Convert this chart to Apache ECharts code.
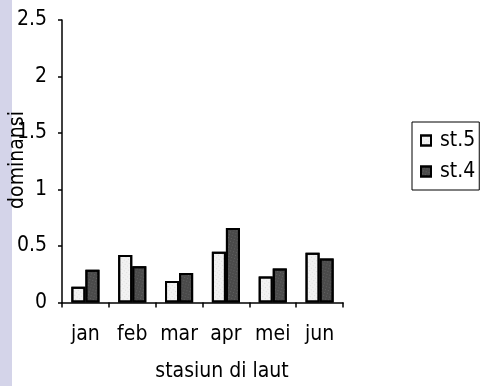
<!DOCTYPE html>
<html>
<head>
<meta charset="utf-8">
<script src="https://cdn.jsdelivr.net/npm/echarts@6/dist/echarts.min.js"></script>
<style>
  html, body { margin: 0; padding: 0; background: #ffffff; }
  #chart { width: 483px; height: 386px; }
</style>
</head>
<body>
<div id="chart"></div>
<script>
// Monthly dominance index at two sea stations
const months = ['jan', 'feb', 'mar', 'apr', 'mei', 'jun'];
const st5 = [0.14, 0.42, 0.19, 0.45, 0.23, 0.44];
const st4 = [0.29, 0.32, 0.26, 0.66, 0.30, 0.39];
const yTicks = [0, 0.5, 1, 1.5, 2, 2.5];

const font = '"DejaVu Sans Condensed", "DejaVu Sans", sans-serif';
const chart = echarts.init(document.getElementById('chart'));

chart.setOption({
  animation: false,
  backgroundColor: '#ffffff',
  textStyle: { fontFamily: font, color: '#000' },
  grid: { left: 62, right: 140, top: 20, bottom: 83.5 },
  graphic: [
    // page margin strip on the left
    { type: 'rect', left: 0, top: 0, shape: { width: 12, height: 386 }, style: { fill: '#d4d4e9' }, z: -1 },
    {
      type: 'text', x: 18, y: 160, rotation: Math.PI / 2,
      style: { text: 'dominansi', font: '21px ' + font, fill: '#000', align: 'center', verticalAlign: 'middle' }
    },
    {
      type: 'text', x: 222, y: 372,
      style: { text: 'stasiun di laut', font: '21px ' + font, fill: '#000', align: 'center', verticalAlign: 'middle' }
    }
  ],
  legend: {
    orient: 'vertical',
    left: 412, top: 122,
    padding: [8, 4, 8, 8],
    icon: 'rect',
    itemWidth: 10, itemHeight: 10, itemGap: 10,
    borderColor: '#000', borderWidth: 1,
    textStyle: { fontFamily: font, fontSize: 21, color: '#000', padding: [0, 0, 0, 4] },
    data: ['st.5', 'st.4']
  },
  xAxis: {
    type: 'category',
    data: months,
    axisLine: { lineStyle: { color: '#000', width: 1.5 } },
    axisTick: { show: true, length: 5, lineStyle: { color: '#000', width: 1.5 } },
    axisLabel: { interval: 0, hideOverlap: false, fontFamily: font, fontSize: 21, color: '#000', margin: 22 }
  },
  yAxis: {
    type: 'value',
    min: 0, max: 2.5, interval: 0.5,
    axisLine: { show: true, lineStyle: { color: '#000', width: 1.5 } },
    axisTick: { show: true, length: 4, lineStyle: { color: '#000', width: 1.5 } },
    splitLine: { show: false },
    axisLabel: {
      fontFamily: font, fontSize: 21, color: '#000', margin: 15,
      formatter: v => String(yTicks.find(t => Math.abs(t - v) < 1e-9))
    }
  },
  series: [
    {
      name: 'st.5', type: 'bar', data: st5,
      barGap: '0%', barCategoryGap: '40%',
      itemStyle: {
        color: '#f2f2f2', borderColor: '#000', borderWidth: 2,
        decal: { symbol: 'rect', symbolSize: 0.6, color: 'rgba(0,0,0,0.3)', dashArrayX: [1, 2], dashArrayY: [1, 2], rotation: 0.6 }
      }
    },
    {
      name: 'st.4', type: 'bar', data: st4,
      itemStyle: {
        color: '#4a4a4a', borderColor: '#000', borderWidth: 2,
        decal: { symbol: 'rect', symbolSize: 0.6, color: 'rgba(255,255,255,0.45)', dashArrayX: [1, 2], dashArrayY: [1, 2], rotation: 0.3 }
      }
    }
  ]
});
</script>
</body>
</html>
